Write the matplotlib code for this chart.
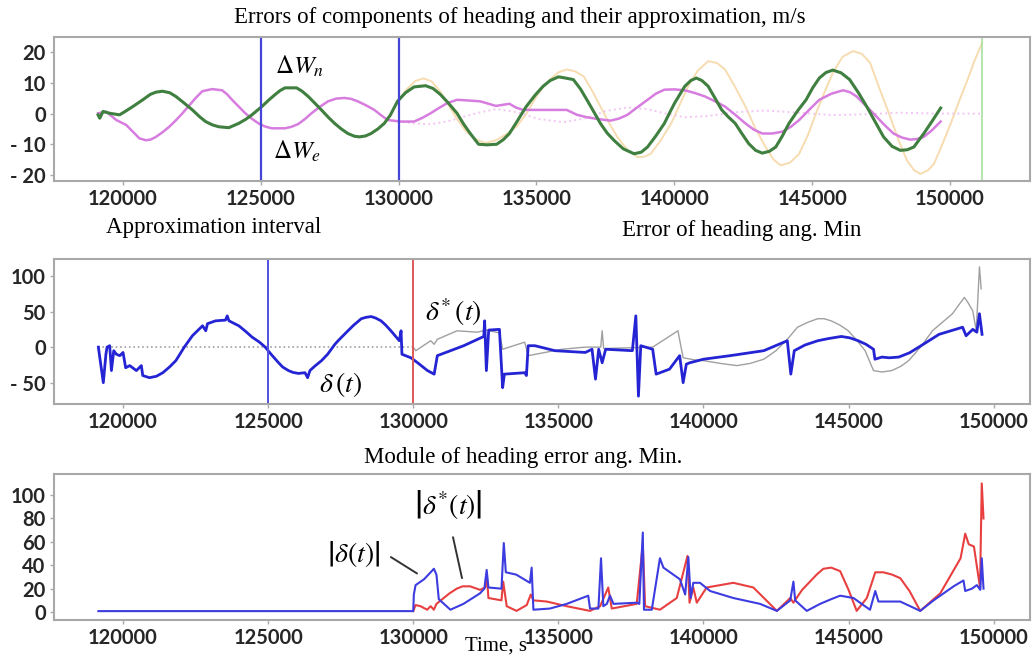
import matplotlib
matplotlib.use("Agg")
import matplotlib.pyplot as plt
from matplotlib.ticker import FixedLocator, FixedFormatter

# ---- panel 1: errors of velocity components (m/s) ----
wn_t = [119100, 119160, 119280, 119520, 119880, 120100, 120360, 120720, 121000, 121200,
        121440, 121700, 121920, 122200, 122520, 122780, 123000, 123250, 123480, 123840,
        124200, 124450, 124680, 125040, 125300, 125520, 125700, 125880, 126300, 126500,
        126720, 126950, 127200, 127450, 127680, 127920, 128160, 128400, 128580, 128800,
        129000, 129250, 129480, 129700, 129960, 130250, 130560, 130980, 131250, 131520,
        131800, 132120, 132350, 132600, 132900, 133200, 133560, 133800, 134020, 134300,
        134630, 134950, 135240, 135500, 135800, 136050, 136340, 136600, 136830, 137080,
        137320, 137560, 137810, 138150, 138540, 138800, 139030, 139330, 139640, 139850,
        140010, 140380, 140600, 140800, 141000, 141230, 141480, 141720, 141950, 142210,
        142450, 142700, 142950, 143190, 143450, 143680, 143920, 144160, 144480, 144780,
        145020, 145260, 145500, 145750, 146050, 146360, 146680, 146980, 147300, 147590,
        147900, 148200, 148450, 148690, 149050, 149350, 149660]
wn_v = [-0.4, -1.5, 0.7, 0.1, -0.4, 0.8, 2.3, 4.5, 6.3, 7.0,
        7.3, 6.8, 5.6, 3.6, 1.2, -1.0, -2.6, -3.7, -4.3, -4.6,
        -3.2, -1.9, -0.4, 2.3, 4.5, 6.2, 7.5, 8.4, 8.4, 7.3,
        5.6, 3.5, 1.2, -1.2, -3.2, -5.0, -6.5, -7.4, -7.6, -7.3,
        -6.5, -5.0, -3.2, -0.5, 4.0, 6.8, 8.7, 9.1, 8.2, 6.2,
        3.5, 0.1, -3.3, -6.5, -10.0, -10.2, -10.0, -8.5, -6.5, -2.5,
        2.3, 6.0, 8.9, 10.8, 12.0, 11.6, 11.1, 8.0, 4.5, 0.6,
        -3.2, -6.3, -8.7, -11.5, -13.1, -12.6, -10.9, -7.3, -3.2, 0.6,
        3.4, 8.9, 10.8, 11.6, 10.8, 8.9, 5.0, 1.2, -1.0, -3.2,
        -6.5, -9.8, -12.0, -12.9, -12.3, -10.9, -7.3, -3.2, 1.0, 4.5,
        8.4, 11.6, 13.4, 14.2, 13.3, 11.1, 6.8, 2.3, -2.9, -7.6,
        -10.7, -12.0, -11.8, -10.9, -6.5, -2.5, 1.8]

wn_fit_t = [129960, 130300, 130600, 130900, 131200, 131500, 131800, 132100, 132450, 132800,
            133150, 133530, 133900, 134270, 134600, 135000, 135250, 135490, 135800, 136100,
            136400, 136710, 137000, 137320, 137620, 137930, 138300, 138670, 138900, 139150,
            139500, 139890, 140200, 140500, 140850, 141230, 141550, 141840, 142200, 142580,
            142950, 143310, 143600, 143860, 144200, 144530, 144850, 145140, 145450, 145750,
            146100, 146480, 146800, 147100, 147450, 147830, 148150, 148440, 148700, 148930,
            149200, 149420, 149700, 150030, 150350, 150640, 150900, 151170]
wn_fit_v = [4.0, 8.0, 10.6, 11.5, 10.5, 7.3, 3.0, -1.5, -5.8, -8.4,
            -9.6, -8.7, -6.8, -4.3, -0.5, 5.6, 8.8, 11.1, 13.5, 14.4,
            13.8, 12.2, 7.8, 2.3, -2.8, -7.6, -11.8, -14.2, -14.1, -13.1,
            -8.8, -3.2, 3.0, 8.9, 14.0, 17.1, 16.5, 14.4, 8.8, 2.3,
            -5.0, -10.9, -15.0, -16.9, -16.0, -13.1, -7.0, 0.1, 7.0, 13.3,
            18.5, 20.4, 19.5, 16.6, 8.0, -1.0, -9.0, -15.3, -18.5, -19.7,
            -18.5, -16.4, -10.5, -3.2, 4.5, 11.1, 17.5, 23.2]

we_t = [119100, 119400, 119760, 120120, 120360, 120600, 120840, 121000, 121200, 121450,
        121680, 121920, 122160, 122400, 122640, 122880, 123240, 123600, 123780, 123960,
        124200, 124440, 124680, 124920, 125150, 125400, 125880, 126120, 126360, 126600,
        126840, 127140, 127440, 127740, 128040, 128280, 128520, 128820, 129120, 129360,
        129600, 130080, 130560, 130860, 131160, 131460, 131760, 132120, 132500, 132960,
        133530, 134020, 134250, 134510, 136100, 136470, 136830, 137250, 137690, 138000,
        138300, 138650, 139030, 139330, 139640, 140000, 140380, 140750, 141110, 141480,
        141840, 142200, 142580, 142880, 143190, 143550, 143920, 144230, 144530, 144900,
        145260, 145700, 146120, 146370, 146610, 146900, 147220, 147600, 147950, 148250,
        148560, 148800, 149050, 149350, 149660]
we_v = [0.1, 0.6, -2.1, -3.7, -5.9, -8.1, -8.7, -8.5, -7.6, -6.0,
        -4.3, -2.2, 0.1, 2.6, 5.1, 7.3, 8.0, 7.6, 6.3, 4.5,
        2.3, 0.1, -1.7, -3.2, -4.2, -4.8, -4.8, -4.3, -3.4, -1.8,
        0.1, 2.2, 4.0, 4.9, 5.1, 4.8, 4.0, 2.7, 1.2, -0.5,
        -2.1, -2.6, -2.6, -1.4, 0.1, 1.8, 3.4, 4.5, 4.3, 4.0,
        2.5, 3.2, 2.0, 1.2, 1.2, -0.4, -1.2, -1.8, -2.3, -1.6,
        -0.4, 2.0, 4.5, 6.5, 7.8, 7.9, 7.6, 6.7, 5.6, 4.0,
        2.3, -0.3, -3.2, -5.2, -6.5, -6.5, -5.9, -4.3, -2.1, 1.3,
        4.5, 6.5, 7.6, 7.0, 5.6, 3.0, 0.1, -3.5, -6.5, -7.8,
        -8.5, -8.3, -7.6, -5.4, -2.6]

we_fit_t = [129960, 130500, 131160, 131800, 132360, 133000, 133560, 134270, 135100, 135980,
            136800, 137500, 138300, 139000, 139700, 140380, 141200, 142300, 143310, 144500,
            145750, 147000, 148200, 149500, 151170]
we_fit_v = [-2.5, -3.2, -3.5, -2.5, -1.0, 0.5, 1.5, 0.5, -1.8, -2.8,
            -1.5, 0.8, 2.0, 1.5, 0.0, -1.2, -0.8, 0.5, 1.0, 0.3,
            -0.5, -0.2, 0.3, 0.0, 0.0]

# ---- panel 2: heading error (ang. min) ----
d_t = [119150, 119200, 119320, 119410, 119450, 119540, 119600, 119680, 119770, 119890,
       120000, 120090, 120230, 120460, 120630, 120680, 120910, 121150, 121370, 121600,
       121820, 122110, 122390, 122740, 122850, 122910, 123190, 123530, 123590, 123650,
       123990, 124200, 124450, 124700, 124900, 125100, 125360, 125500, 125700, 125850,
       126040, 126270, 126360, 126440, 126600, 126840, 127050, 127300, 127410, 127750,
       127950, 128210, 128380, 128550, 128700, 128890, 129050, 129230, 129520, 129580,
       129610, 129920, 130150, 130490, 130720, 130830, 131740, 132430, 132460, 132520,
       132600, 132970, 133080, 133140, 133840, 133900, 133960, 134190, 134880, 135930,
       136160, 136280, 136390, 136510, 136630, 137550, 137670, 137760, 137840, 138250,
       138370, 138830, 139180, 139300, 139410, 139530, 140000, 140920, 142080, 142890,
       143010, 143130, 143500, 143940, 144300, 144750, 145050, 145330, 145600, 145860,
       145910, 146150, 146400, 146730, 147100, 147420, 148120, 148930, 149050, 149280,
       149420, 149510, 149600]
d_v = [0, -15, -50, -10, 0, 2, -33, -5, -10, -12,
       -7.5, -29, -26, -33, -26, -40, -43, -41, -36, -28,
       -19, 0, 16, 30, 23, 33, 37, 38, 44, 37,
       30, 23, 14, 7, 0, -10, -22, -28, -33, -35.5,
       -37, -36, -43, -33, -27, -19, -10, 4, 9, 23,
       31, 40, 42, 43, 41, 37, 31, 23, 9, 23,
       -10, -15, -22, -33, -38, -12, 2, 15, 37, -33,
       24, 25, -57, -38, -36, -40, 2, 2, -5, -7.5,
       -3, -45, -3, -22, -3, -5, 44, -69, 2, -3,
       -38, -31, -12, -50, -24, -22, -17, -12, -5, 9,
       -38, -5, 3, 9, 12, 15, 13, 9, 4, -3,
       -17, -14, -15, -14, -8, 0, 18, 28, 16, 25,
       21, 47, 18]

ds_zero_t = [119150, 130000]
ds_zero_v = [0, 0]
ds_t = [130000, 130090, 130600, 130720, 130830, 131510, 132200, 132520, 132970, 133080,
        133840, 133960, 135120, 135930, 136460, 136510, 136560, 138250, 139120, 139300,
        139700, 140000, 140600, 141150, 141600, 142080, 142500, 142890, 143240, 143600,
        143940, 144150, 144400, 144700, 144990, 145300, 145570, 145860, 146150, 146490,
        146800, 147070, 147500, 147890, 148580, 148990, 149110, 149280, 149400, 149510,
        149570]
ds_v = [0, -5, 9, 4, 11, 23, 21, 24, 20, -3,
        7, -12, -3, 0, 0, 23, -2, 0, 23, -15,
        -18, -19, -23, -26, -23, -17, -5, 11, 28, 35,
        40, 40, 37, 31, 23, 9, -5, -33, -35, -33,
        -27, -19, 1, 23, 47, 70, 63, 51, 23, 113,
        82]

# ---- panel 3: module of heading error ----
ad_t = [119150, 130000, 130020, 130080, 130370, 130600, 130710, 130800, 130880, 131280,
        131730, 132300, 132450, 132530, 132590, 133040, 133120, 133190, 133550, 134020,
        134080, 134140, 134710, 135290, 136030, 136090, 136380, 136470, 136550, 136670,
        136780, 136900, 137700, 137790, 137910, 137950, 138220, 138500, 138620, 139190,
        139370, 139480, 139560, 139650, 139880, 140230, 141030, 141950, 142530, 142990,
        143100, 143160, 143560, 144020, 144400, 144710, 145170, 145450, 145740, 145920,
        146030, 146780, 147470, 147930, 148620, 148960, 149020, 149250, 149420, 149540,
        149590, 149650]
ad_v = [0.8, 0.8, 15, 23, 28, 34, 37, 32, 11, 2,
        7, 16, 20, 36, 21, 20, 59, 34, 32, 25,
        38, 2, 3, 7, 14, 3, 3, 46, 5, 7,
        14, 7, 8, 7, 68, 2, 2, 46, 38, 28,
        15, 47, 12, 25, 25, 18, 12, 7, 1, 10,
        26, 10, 1, 7, 11, 14, 12, 7, 2, 18,
        9, 9, 1, 10, 22, 27, 18, 20, 23, 19,
        46, 20]

ads_t = [130000, 130080, 130250, 130480, 130600, 130710, 130800, 131050, 131250, 131500,
         131700, 131960, 132300, 132480, 132530, 132590, 133040, 133100, 133220, 133560,
         133910, 134050, 134140, 134600, 135290, 136090, 136440, 136720, 136840, 137700,
         137910, 137990, 138500, 139080, 139450, 139520, 139650, 139770, 140110, 141030,
         141720, 142530, 142990, 143100, 143400, 143670, 143900, 144130, 144400, 144710,
         145000, 145280, 145630, 145920, 146200, 146500, 146780, 147100, 147470, 148160,
         148860, 149020, 149140, 149320, 149530, 149590, 149650]
ads_v = [0.8, 6, 5, 2, 5, 2, 7, 12, 16, 20,
         22, 22, 19, 21, 33, 12, 10, 26, 5, 1,
         6, 15, 10, 9, 5, 1, 5, 21, 3, 7,
         58, 5, 2, 12, 48, 8, 21, 8, 21, 25,
         21, 1, 12, 8, 19, 26, 32, 37, 38, 35,
         19, 1, 12, 34, 34, 32, 29, 18, 1, 16,
         46, 67, 58, 56, 21, 110, 80]

x_ticks = [120000, 125000, 130000, 135000, 140000, 145000, 150000]
y1_ticks = [-20, -10, 0, 10, 20]
y1_labels = ['- 20', '- 10', '0', '10', '20']
y2_ticks = [-50, 0, 50, 100]
y2_labels = ['- 50', '0', '50', '100']
y3_ticks = [0, 20, 40, 60, 80, 100]

plt.rcParams['mathtext.fontset'] = 'stix'
serif = 'Liberation Serif'
tsize = 16.5

fig = plt.figure(figsize=(10.32, 6.57), dpi=100)
ax1 = fig.add_axes([0.0523, 0.7245, 0.9457, 0.2192])
ax2 = fig.add_axes([0.0523, 0.3851, 0.9457, 0.2207])
ax3 = fig.add_axes([0.0523, 0.0563, 0.9457, 0.2222])


def style(ax, xlim, ylim, yt, yl):
    ax.set_xlim(*xlim)
    ax.set_ylim(*ylim)
    ax.xaxis.set_major_locator(FixedLocator(x_ticks))
    ax.xaxis.set_major_formatter(FixedFormatter([str(v) for v in x_ticks]))
    ax.yaxis.set_major_locator(FixedLocator(yt))
    ax.yaxis.set_major_formatter(FixedFormatter(yl))
    for s in ax.spines.values():
        s.set_color('#a8a8a8')
        s.set_linewidth(1.5)
    ax.tick_params(length=3, width=1, color='#a8a8a8', labelcolor='#262626', pad=3)
    for lab in ax.get_xticklabels() + ax.get_yticklabels():
        lab.set_family('Lato')
        lab.set_weight('bold')
        lab.set_size(14.5)


# panel 1
ax1.plot(wn_fit_t, wn_fit_v, color='#f6dcb0', lw=1.4)
ax1.plot(we_fit_t, we_fit_v, color='#f2c6f2', lw=1.4, ls=':')
ax1.plot(we_t, we_v, color='#d67ddf', lw=1.8)
ax1.plot(wn_t, wn_v, color='#3f7f3f', lw=2.2)
ax1.axvline(125000, color='#4545d8', lw=1.6)
ax1.axvline(130000, color='#4545d8', lw=1.6)
ax1.axvline(151170, color='#a8e0a0', lw=1.2)
style(ax1, (117500, 152900), (-22, 25), y1_ticks, y1_labels)
ax1.text(126420, 15.3, r'$\Delta W_{n}$', fontsize=18, ha='center', va='center')
ax1.text(126310, -12.4, r'$\Delta W_{e}$', fontsize=18, ha='center', va='center')

# panel 2
ax2.plot(ds_zero_t, ds_zero_v, color='#a0a0a0', lw=1.2, ls=':')
ax2.plot(ds_t, ds_v, color='#a0a0a0', lw=1.0)
ax2.plot(d_t, d_v, color='#2424d4', lw=2.0)
ax2.axvline(125000, color='#5050e0', lw=1.4)
ax2.axvline(130000, color='#e05858', lw=1.4)
style(ax2, (117620, 151250), (-80, 124), y2_ticks, y2_labels)
ax2.text(131400, 49, r'$\delta^{*}\,(t)$', fontsize=20, ha='center', va='center')
ax2.text(127480, -53, r'$\delta\,(t)$', fontsize=20, ha='center', va='center')

# panel 3
ax3.plot(ads_t, ads_v, color='#e84040', lw=1.5)
ax3.plot(ad_t, ad_v, color='#3c3ce0', lw=1.5)
style(ax3, (117620, 151250), (-6.8, 118), y3_ticks, [str(v) for v in y3_ticks])
ax3.text(127960, 49.6, r'$\left|\delta(t)\right|$', fontsize=20, ha='center', va='center')
ax3.annotate('', xy=(130130, 33), xytext=(129230, 47),
             arrowprops=dict(arrowstyle='-', color='#333333', lw=1.4, shrinkA=0, shrinkB=0))
ax3.text(131200, 92, r'$\left|\delta^{*}(t)\right|$', fontsize=20, ha='center', va='center')
ax3.annotate('', xy=(131680, 29), xytext=(131370, 64),
             arrowprops=dict(arrowstyle='-', color='#333333', lw=1.4, shrinkA=0, shrinkB=0))

fig.text(520 / 1032, 1 - 17 / 657, 'Errors of components of heading and their approximation, m/s',
         family=serif, fontsize=tsize, ha='center', va='center')
fig.text(214 / 1032, 1 - 228 / 657, 'Approximation interval',
         family=serif, fontsize=tsize, ha='center', va='center')
fig.text(742 / 1032, 1 - 231 / 657, 'Error of heading ang. Min',
         family=serif, fontsize=tsize, ha='center', va='center')
fig.text(523 / 1032, 1 - 457 / 657, 'Module of heading error ang. Min.',
         family=serif, fontsize=tsize, ha='center', va='center')
fig.text(496 / 1032, 1 / 657, 'Time, s',
         family=serif, fontsize=15, ha='center', va='bottom')

fig.savefig('out.png', dpi=100)
